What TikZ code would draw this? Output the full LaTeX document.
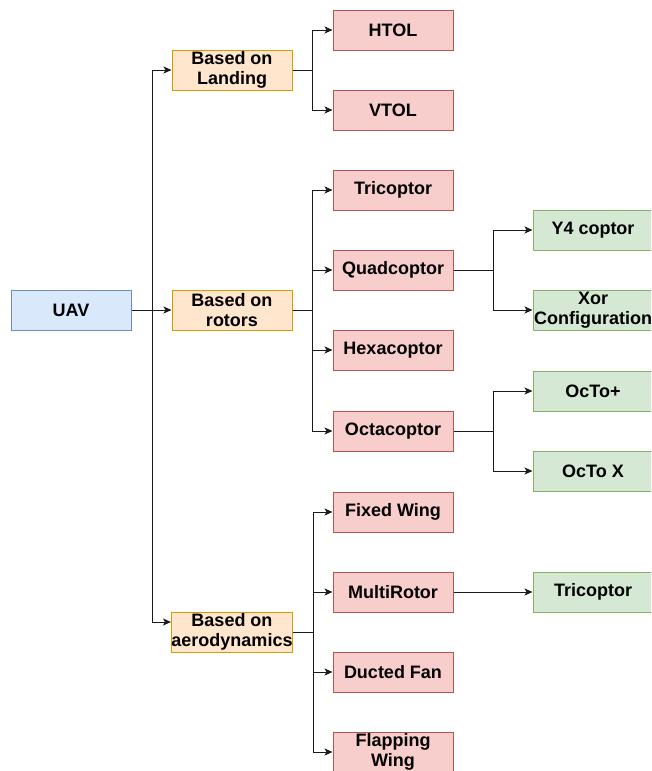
\documentclass[tikz,border=0pt]{standalone}
\usepackage{fontspec}
\setmainfont{Liberation Sans}
\usetikzlibrary{arrows.meta}

\definecolor{bluefill}{HTML}{DAE8FC}\definecolor{blueline}{HTML}{6C8EBF}
\definecolor{orangefill}{HTML}{FFE6CC}\definecolor{orangeline}{HTML}{D79B00}
\definecolor{redfill}{HTML}{F8CECC}\definecolor{redline}{HTML}{B85450}
\definecolor{greenfill}{HTML}{D5E8D4}\definecolor{greenline}{HTML}{82B366}
\definecolor{edgecol}{HTML}{1A1A1A}

\begin{document}
\begin{tikzpicture}[x=1pt,y=-1pt,
  box/.style={draw, line width=1pt, minimum width=120pt, minimum height=40pt,
    inner sep=0pt, align=center, font=\fontsize{18}{20}\selectfont\bfseries},
  root/.style={box, fill=bluefill, draw=blueline},
  group/.style={box, fill=orangefill, draw=orangeline},
  kind/.style={box, fill=redfill, draw=redline},
  sub/.style={box, fill=greenfill, draw=greenline},
  link/.style={draw=edgecol, line width=1pt, -{Stealth[length=8pt,width=7pt,inset=2pt]}}]

\useasboundingbox (0,0) rectangle (651,771);
\clip (0,0) rectangle (651,771);

% root
\node[root] (uav) at (71,310) {UAV};

% classification criteria
\node[group] (land)  at (232,70)  {Based on\\Landing};
\node[group] (rot)   at (232,310) {Based on\\rotors};
\node[group] (aero)  at (232,632) {Based on\\aerodynamics};

% UAV types
\node[kind] (htol)  at (393,30)  {HTOL};
\node[kind] (vtol)  at (393,110) {VTOL};
\node[kind] (tri)   at (393,190) {Tricoptor};
\node[kind] (quad)  at (393,270) {Quadcoptor};
\node[kind] (hexa)  at (393,350) {Hexacoptor};
\node[kind] (octa)  at (393,431) {Octacoptor};
\node[kind] (fixed) at (393,512) {Fixed Wing};
\node[kind] (multi) at (393,592) {MultiRotor};
\node[kind] (duct)  at (393,672) {Ducted Fan};
\node[kind] (flap)  at (393,752) {Flapping\\Wing};

% configurations
\node[sub] (y4)    at (593,230) {Y4 coptor};
\node[sub] (xor)   at (593,310) {Xor\\Configuration};
\node[sub] (octp)  at (593,391) {OcTo+};
\node[sub] (octx)  at (593,471) {OcTo X};
\node[sub] (mtri)  at (593,592) {Tricoptor};

% UAV -> criteria
\draw[link] (uav.east) -- ++(21,0) |- (land.west);
\draw[link] (uav.east) -- (rot.west);
\draw[link] (uav.east) -- ++(21,0) |- ([yshift=10pt]aero.west);

% criteria -> types
\foreach \t in {htol,vtol}
  \draw[link] (land.east) -- ++(20,0) |- (\t.west);
\foreach \t in {tri,quad,hexa,octa}
  \draw[link] (rot.east) -- ++(20,0) |- (\t.west);
\foreach \t in {fixed,multi,duct,flap}
  \draw[link] (aero.east) -- ++(20,0) |- (\t.west);

% types -> configurations
\foreach \t in {y4,xor}
  \draw[link] (quad.east) -- ++(40,0) |- (\t.west);
\foreach \t in {octp,octx}
  \draw[link] (octa.east) -- ++(40,0) |- (\t.west);
\draw[link] (multi.east) -- (mtri.west);

\end{tikzpicture}
\end{document}
